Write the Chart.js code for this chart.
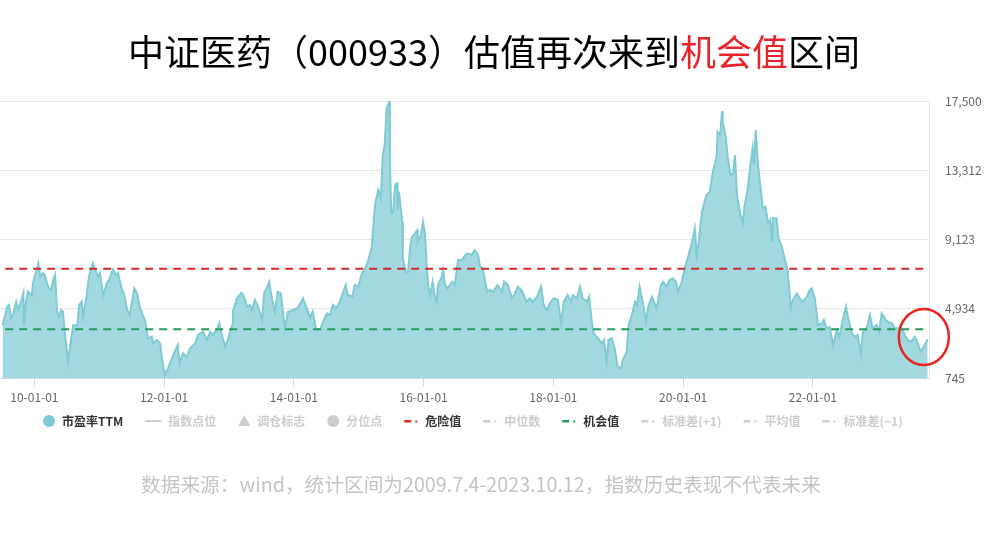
<!DOCTYPE html>
<html>
<head>
<meta charset="utf-8">
<script src="https://cdn.jsdelivr.net/npm/chart.js@4.4.1/dist/chart.umd.min.js"></script>
<style>
html, body { margin: 0; padding: 0; background: #fff; }
#wrap { position: relative; width: 988px; height: 534px; overflow: hidden; font-family: "Noto Sans CJK SC", "Noto Sans", sans-serif; }
#title { position: absolute; left: 0; top: 24px; width: 988px; text-align: center; font-size: 36px; line-height: 52px; color: #000; }
#title span { color: #e8232a; }
#note { position: absolute; left: 0; top: 470px; width: 962px; text-align: center; font-size: 19.7px; line-height: 28px; color: #c4c4c4; }
canvas { position: absolute; left: 0; top: 0; }
</style>
</head>
<body>
<div id="wrap">
  <canvas id="chart" width="988" height="534"></canvas>
  <div id="title">中证医药（000933）估值再次来到<span>机会值</span>区间</div>
  <div id="note">数据来源：wind，统计区间为2009.7.4-2023.10.12，指数历史表现不代表未来</div>
</div>
<script>
// dates as decimal years
const years = [
  2009.51, 2009.55, 2009.58, 2009.61, 2009.64, 2009.67, 2009.72, 2009.75, 2009.81, 2009.83,
  2009.84, 2009.87, 2009.90, 2009.96, 2009.98, 2010.06, 2010.09, 2010.13, 2010.16, 2010.21,
  2010.26, 2010.29, 2010.32, 2010.35, 2010.38, 2010.41, 2010.44, 2010.47, 2010.52, 2010.55,
  2010.60, 2010.66, 2010.69, 2010.73, 2010.75, 2010.80, 2010.84, 2010.90, 2010.95, 2010.98,
  2011.01, 2011.06, 2011.12, 2011.15, 2011.21, 2011.26, 2011.29, 2011.35, 2011.38, 2011.43,
  2011.47, 2011.54, 2011.58, 2011.63, 2011.71, 2011.75, 2011.81, 2011.83, 2011.89, 2011.94,
  2011.97, 2012.01, 2012.06, 2012.14, 2012.21, 2012.24, 2012.29, 2012.35, 2012.40, 2012.48,
  2012.52, 2012.60, 2012.66, 2012.71, 2012.75, 2012.82, 2012.85, 2012.89, 2012.94, 2012.98,
  2013.05, 2013.06, 2013.12, 2013.19, 2013.22, 2013.28, 2013.32, 2013.35, 2013.40, 2013.45,
  2013.51, 2013.54, 2013.59, 2013.62, 2013.66, 2013.71, 2013.75, 2013.80, 2013.86, 2013.91,
  2013.99, 2014.06, 2014.14, 2014.20, 2014.25, 2014.29, 2014.34, 2014.40, 2014.45, 2014.51,
  2014.56, 2014.60, 2014.65, 2014.71, 2014.76, 2014.80, 2014.83, 2014.90, 2014.94, 2014.99,
  2015.05, 2015.10, 2015.14, 2015.20, 2015.25, 2015.30, 2015.34, 2015.37, 2015.40, 2015.43,
  2015.47, 2015.48, 2015.50, 2015.53, 2015.56, 2015.59, 2015.60, 2015.62, 2015.67, 2015.68,
  2015.73, 2015.76, 2015.79, 2015.82, 2015.85, 2015.90, 2015.91, 2015.96, 2015.99, 2016.02,
  2016.05, 2016.07, 2016.10, 2016.14, 2016.17, 2016.20, 2016.22, 2016.28, 2016.30, 2016.33,
  2016.37, 2016.44, 2016.48, 2016.53, 2016.59, 2016.64, 2016.68, 2016.74, 2016.79, 2016.84,
  2016.87, 2016.91, 2016.98, 2017.02, 2017.07, 2017.14, 2017.21, 2017.24, 2017.30, 2017.36,
  2017.41, 2017.45, 2017.51, 2017.59, 2017.64, 2017.68, 2017.75, 2017.81, 2017.85, 2017.90,
  2017.96, 2018.01, 2018.07, 2018.12, 2018.16, 2018.22, 2018.27, 2018.30, 2018.36, 2018.41,
  2018.45, 2018.52, 2018.55, 2018.59, 2018.62, 2018.69, 2018.75, 2018.78, 2018.82, 2018.85,
  2018.90, 2018.95, 2018.99, 2019.04, 2019.07, 2019.13, 2019.16, 2019.21, 2019.26, 2019.29,
  2019.33, 2019.38, 2019.43, 2019.46, 2019.52, 2019.56, 2019.59, 2019.66, 2019.69, 2019.75,
  2019.79, 2019.84, 2019.89, 2019.92, 2019.98, 2020.03, 2020.07, 2020.12, 2020.15, 2020.18,
  2020.21, 2020.24, 2020.29, 2020.33, 2020.36, 2020.41, 2020.46, 2020.52, 2020.53, 2020.57,
  2020.60, 2020.61, 2020.66, 2020.69, 2020.73, 2020.77, 2020.80, 2020.83, 2020.87, 2020.92,
  2020.95, 2021.00, 2021.03, 2021.07, 2021.09, 2021.12, 2021.15, 2021.20, 2021.23, 2021.27,
  2021.31, 2021.34, 2021.37, 2021.38, 2021.44, 2021.47, 2021.52, 2021.57, 2021.61, 2021.66,
  2021.69, 2021.75, 2021.80, 2021.84, 2021.91, 2021.95, 2021.98, 2022.03, 2022.08, 2022.14,
  2022.17, 2022.21, 2022.26, 2022.31, 2022.37, 2022.41, 2022.46, 2022.51, 2022.54, 2022.60,
  2022.65, 2022.69, 2022.74, 2022.77, 2022.83, 2022.88, 2022.92, 2022.98, 2023.02, 2023.06,
  2023.11, 2023.15, 2023.22, 2023.26, 2023.31, 2023.37, 2023.42, 2023.46, 2023.52, 2023.57,
  2023.62, 2023.66, 2023.71, 2023.77
];

const peValues = [
  3951, 4556, 5058, 5161, 4374, 4556, 5360, 4858, 5584, 5887,
  3951, 5360, 5965, 5766, 6492, 7701, 6872, 7096, 6975, 6268,
  6068, 6673, 6975, 4755, 4453, 4858, 4755, 3449, 1731, 2638,
  3951, 3891, 5161, 5360, 4453, 5566, 6872, 7681, 7175, 6872,
  7096, 5766, 6492, 6673, 7320, 6975, 7096, 6068, 5868, 4858,
  4556, 6170, 5887, 4979, 4151, 3146, 3243, 2862, 3044, 2842,
  1834, 926, 1332, 2136, 2741, 1634, 2237, 2034, 2541, 2842,
  3346, 3546, 3044, 3546, 3346, 3751, 4054, 3346, 2638, 3044,
  3951, 4755, 5566, 5905, 5766, 5058, 5161, 4858, 5463, 5058,
  4253, 5868, 6268, 6570, 5566, 4755, 5965, 5868, 3751, 4755,
  4858, 4979, 5566, 4961, 4400, 4755, 3751, 3649, 4151, 4659,
  4556, 5161, 4961, 5360, 5965, 6371, 5766, 5663, 6371, 6268,
  7080, 7381, 7782, 8690, 11210, 12117, 11614, 14234, 14839, 17059,
  17459, 14033, 10706, 10805, 12419, 12520, 10907, 12014, 10200, 7985,
  7080, 7175, 8588, 9291, 9394, 9697, 8990, 9394, 10200, 9498,
  7381, 6371, 5766, 6570, 5663, 5360, 6371, 6872, 7278, 6371,
  6170, 6570, 6371, 7883, 7883, 8185, 8288, 8185, 8488, 8185,
  7478, 7381, 5965, 6068, 5965, 6371, 5965, 6570, 6371, 5566,
  5868, 6268, 6068, 5360, 5566, 5360, 5663, 6268, 5161, 4858,
  5360, 5566, 5463, 4054, 5360, 5766, 5360, 5766, 5566, 6268,
  5566, 5360, 5663, 4253, 3449, 3146, 2842, 3044, 1731, 3044,
  3146, 2439, 1429, 1300, 1834, 2335, 3951, 4556, 5360, 5161,
  6268, 5264, 4151, 5058, 5663, 5264, 4961, 6371, 6570, 6268,
  6673, 6776, 6570, 5965, 6570, 7478, 7985, 8690, 9198, 9800,
  8185, 8990, 10805, 11410, 11815, 12014, 13224, 14234, 15644, 15443,
  16896, 16249, 15241, 14033, 13023, 13125, 14234, 11815, 10907, 10103,
  11210, 12316, 13427, 14637, 13628, 15745, 13829, 12014, 11009, 11110,
  10103, 10302, 9093, 10403, 10403, 9198, 8690, 7883, 7278, 4961,
  5463, 5868, 5566, 5360, 5663, 6068, 6170, 5566, 3951, 4054,
  4253, 3751, 3812, 2741, 3649, 3243, 4253, 5058, 4453, 3449,
  3243, 3346, 2237, 3546, 3751, 4556, 3751, 3951, 3546, 4659,
  4352, 4151, 4054, 3751, 3751, 3751, 3346, 3044, 2943, 3243,
  2842, 2335, 2638, 3086
];

const dangerValue = 7356;
const chanceValue = 3691;
const lineSpan = [2009.55, 2023.70];

const yTicks = [745, 4934, 9123, 13312, 17500];
const xTicks = [2010, 2012, 2014, 2016, 2018, 2020, 2022];
const xTickLabels = ['10-01-01', '12-01-01', '14-01-01', '16-01-01', '18-01-01', '20-01-01', '22-01-01'];

const legendNames = ['市盈率TTM', '指数点位', '调仓标志', '分位点', '危险值', '中位数', '机会值', '标准差(+1)', '平均值', '标准差(−1)'];
const legendSymbols = ['circle', 'line', 'triangle', 'circle', 'dashdot', 'dashdot', 'dashdot', 'dashdot', 'dashdot', 'dashdot'];
const legendColors = ['#7ecbd4', '#cccccc', '#cccccc', '#cccccc', '#d7282c', '#cccccc', '#259a5d', '#cccccc', '#cccccc', '#cccccc'];
const legendActive = [true, false, false, false, true, false, true, false, false, false];

// where the red circle sits (data coords)
const markYear = 2023.71;
const markValue = 3225;

const peData = years.map((x, i) => ({ x: x, y: peValues[i] }));

const decor = {
    id: 'decor',
    afterDraw(chart) {
        const ctx = chart.ctx;
        ctx.save();

        // legend
        ctx.font = 'bold 12px "Noto Sans CJK SC", sans-serif';
        ctx.textBaseline = 'middle';
        let x = 43;
        const y = 421;
        legendNames.forEach((name, i) => {
            const c = legendColors[i];
            ctx.fillStyle = c;
            ctx.strokeStyle = c;
            let w = 12;
            if (legendSymbols[i] === 'circle') {
                ctx.beginPath();
                ctx.arc(x + 6, y, 6, 0, Math.PI * 2);
                ctx.fill();
            } else if (legendSymbols[i] === 'line') {
                w = 16;
                ctx.fillRect(x, y - 1, 16, 2);
            } else if (legendSymbols[i] === 'triangle') {
                ctx.beginPath();
                ctx.moveTo(x + 6, y - 6);
                ctx.lineTo(x + 12, y + 5);
                ctx.lineTo(x, y + 5);
                ctx.closePath();
                ctx.fill();
            } else {
                w = 14;
                ctx.fillRect(x, y - 1, 7, 2.5);
                ctx.fillRect(x + 11, y - 0.5, 2, 2);
            }
            x += w + 7;
            ctx.fillStyle = legendActive[i] ? '#333333' : '#cccccc';
            ctx.fillText(name, x, y);
            x += ctx.measureText(name).width + 22;
        });

        // red circle around the latest readings
        const cx = chart.scales.x.getPixelForValue(markYear);
        const cy = chart.scales.y.getPixelForValue(markValue);
        ctx.strokeStyle = '#e8261f';
        ctx.lineWidth = 2.5;
        ctx.beginPath();
        ctx.ellipse(cx, cy, 25, 28, 0, 0, Math.PI * 2);
        ctx.stroke();

        ctx.restore();
    }
};

new Chart(document.getElementById('chart'), {
    type: 'line',
    data: {
        datasets: [
            {
                label: '危险值',
                data: lineSpan.map(v => ({ x: v, y: dangerValue })),
                borderColor: '#d2282c',
                borderWidth: 2,
                borderDash: [8, 6],
                pointRadius: 0,
                fill: false,
                order: 1
            },
            {
                label: '机会值',
                data: lineSpan.map(v => ({ x: v, y: chanceValue })),
                borderColor: '#259a5d',
                borderWidth: 2,
                borderDash: [8, 6],
                pointRadius: 0,
                fill: false,
                order: 1
            },
            {
                label: '市盈率TTM',
                data: peData,
                borderColor: '#7fcbd4',
                backgroundColor: '#a2d8df',
                borderWidth: 2,
                pointRadius: 0,
                tension: 0,
                fill: 'start',
                order: 3
            }
        ]
    },
    options: {
        responsive: false,
        animation: false,
        devicePixelRatio: 1,
        layout: { padding: { top: 101, bottom: 126, left: 0, right: 0 } },
        plugins: {
            legend: { display: false },
            tooltip: { enabled: false }
        },
        scales: {
            x: {
                type: 'linear',
                min: 2009.47,
                max: 2023.79,
                afterBuildTicks: s => { s.ticks = xTicks.map(v => ({ value: v })); },
                afterFit: s => { s.height = 30; },
                ticks: {
                    autoSkip: false,
                    maxRotation: 0,
                    padding: 3,
                    color: '#666666',
                    font: { size: 12, family: '"Noto Sans CJK SC", sans-serif' },
                    callback: v => xTickLabels[xTicks.indexOf(v)]
                },
                grid: { drawOnChartArea: false, color: '#ccd6eb', tickLength: 9 },
                border: { color: '#ccd6eb', width: 1 }
            },
            y: {
                position: 'right',
                min: 745,
                max: 17500,
                afterBuildTicks: s => { s.ticks = yTicks.map(v => ({ value: v })); },
                afterFit: s => { s.width = 59; },
                ticks: {
                    padding: 16,
                    color: '#666666',
                    font: { size: 12, family: '"Noto Sans CJK SC", sans-serif' },
                    callback: v => v.toLocaleString('en-US')
                },
                grid: { color: '#e6e6e6', drawTicks: false },
                border: { color: '#e1e7f0', width: 1 }
            }
        }
    },
    plugins: [decor]
});
</script>
</body>
</html>
